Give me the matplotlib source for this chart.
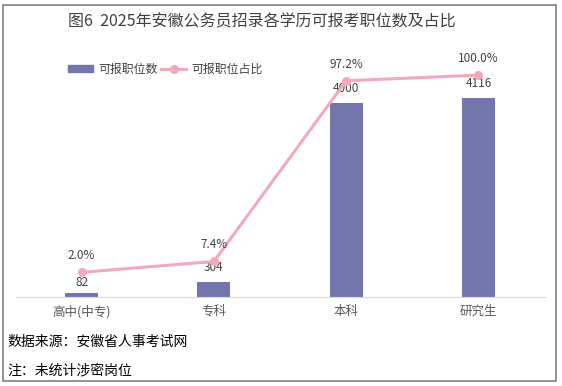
import matplotlib
matplotlib.use("Agg")
import matplotlib.pyplot as plt
from matplotlib.lines import Line2D
from matplotlib.patches import Patch, Rectangle

plt.rcParams['font.family'] = ['Noto Sans CJK SC', 'DejaVu Sans']

# data
categories = ['高中(中专)', '专科', '本科', '研究生']
counts = [82, 304, 4000, 4116]
shares = [0.020, 0.074, 0.972, 1.000]
share_labels = ['2.0%', '7.4%', '97.2%', '100.0%']

title = '图6  2025年安徽公务员招录各学历可报考职位数及占比'
notes = ['数据来源：安徽省人事考试网', '注：未统计涉密岗位']

bar_color = '#7376AD'
line_color = '#F2A9BA'
label_color = '#404040'

W, H = 562, 386
fig = plt.figure(figsize=(W / 100, H / 100), dpi=100)

# outer frame
fig.patches.append(Rectangle((3 / W, 1 - 381 / H), 553 / W, 376 / H,
                             transform=fig.transFigure, fill=False,
                             edgecolor='#7f7f87', linewidth=1.2))

ax = fig.add_axes([15.5 / W, 1 - 296.5 / H, 529 / W, 241.5 / H])
x = range(len(categories))
ax.bar(x, counts, width=0.25, color=bar_color, zorder=2)
ax.set_ylim(0, 5000)
ax.set_xlim(-0.5, len(categories) - 0.5)
for s in ['top', 'right', 'left']:
    ax.spines[s].set_visible(False)
ax.spines['bottom'].set_color('#d9d9d9')
ax.set_yticks([])
ax.set_xticks(list(x))
ax.set_xticklabels(categories, fontsize=9, color='#595959')
ax.tick_params(axis='x', length=0, pad=6)

for i, v in enumerate(counts):
    off = 7 if v < 100 else 10.5
    ax.annotate(str(v), (i, v), xytext=(0, off), textcoords='offset points',
                ha='center', va='center', fontsize=8.5, color=label_color, zorder=5)

ax2 = ax.twinx()
ax2.set_ylim(-0.1, 1.1)
ax2.plot(x, shares, color=line_color, linewidth=2.2, marker='o',
         markersize=5.5, zorder=3)
ax2.axis('off')
for i, (v, t) in enumerate(zip(shares, share_labels)):
    ax2.annotate(t, (i, v), xytext=(0, 12), textcoords='offset points',
                 ha='center', va='center', fontsize=8.5, color=label_color)

fig.text(262 / W, 1 - 22 / H, title, ha='center', va='center',
         fontsize=11.5, color='#404040')

handles = [Patch(color=bar_color),
           Line2D([], [], color=line_color, linewidth=2.2, marker='o', markersize=5.5)]
fig.legend(handles, ['可报职位数', '可报职位占比'], loc='center',
           bbox_to_anchor=(165.5 / W, 1 - 69 / H), ncol=2, frameon=False,
           fontsize=8.6, handlelength=2.1, handleheight=0.55,
           handletextpad=0.45, columnspacing=0.25,
           labelcolor='#404040')

fig.text(7 / W, 1 - 342 / H, notes[0], ha='left', va='center',
         fontsize=10, style='italic', color='black')
fig.text(7 / W, 1 - 370 / H, notes[1], ha='left', va='center',
         fontsize=10, style='italic', color='black')

fig.savefig('out.png', dpi=100, facecolor='white')
